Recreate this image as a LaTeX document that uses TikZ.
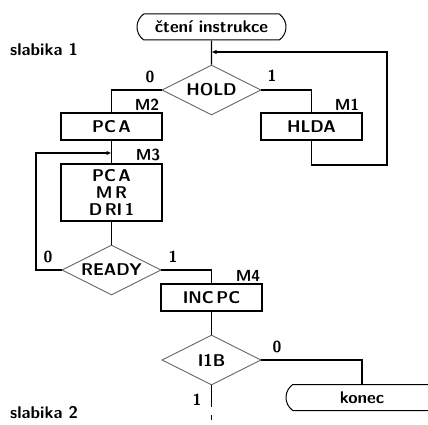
\documentclass[tikz,border=0pt]{standalone}
\usetikzlibrary{shapes.geometric,shapes.misc,arrows.meta}
\newcommand{\tsp}{\kern2.5pt}
\begin{document}
\begin{tikzpicture}[x=1pt,y=-1pt,
  font=\sffamily\bfseries\fontsize{17}{19}\selectfont,
  conn/.style={line width=1.2pt,black},
  box/.style={draw,line width=1.2pt,rectangle,minimum width=101pt,minimum height=27pt,inner sep=0pt},
  term/.style={draw,line width=1pt,rounded rectangle,rounded rectangle arc length=110,minimum height=26pt,inner sep=0pt},
  dec/.style={draw=black!60,line width=0.9pt,diamond,aspect=2,minimum width=99pt,minimum height=50pt,inner sep=0pt},
  lab/.style={font=\sffamily\bfseries\fontsize{16}{18}\selectfont,inner sep=0pt},
  tip/.style={-{Latex[length=5pt,width=4.5pt]}}
]
\useasboundingbox (0,0) rectangle (428,425);
\node[term,minimum width=149pt] (start) at (211.5,27) {čtení instrukce};
\node[dec] (hold) at (211.5,90) {HOLD};
\node[box] (pca) at (111.5,126.5) {PC\tsp A};
\node[box] (hlda) at (311.5,126.5) {HLDA};
\node[box,minimum height=57pt,align=center] (box3) at (111.5,192.5) {PC\tsp A\\[-2pt]M\tsp R\\[-2pt]D\tsp RI\tsp 1};
\node[dec] (ready) at (111.5,270) {READY};
\node[box] (inc) at (211.5,297.5) {INC\tsp PC};
\node[dec] (ib) at (211.5,360) {I1B};
\node[term,minimum width=152pt] (konec) at (362,397.5) {konec};

\coordinate (lr) at (387,165);
\coordinate (lt) at (387,52);
\coordinate (ll) at (36,270);
\coordinate (lm) at (36,153);
\coordinate (bend) at (211.5,407);
\coordinate (ds) at (211.5,415);
\coordinate (de) at (211.5,420);

\draw[conn] (start) -- (hold);
\draw[conn] (hold.west) -| (pca.north);
\draw[conn] (hold.east) -| (hlda.north);
\draw[conn,tip] (hlda.south) |- (lr) -- (lt) -- (start.south |- lt);
\draw[conn] (pca) -- (box3);
\draw[conn] (box3) -- (ready);
\draw[conn,tip] (ready.west) -- (ll) -- (lm) -- (pca.south |- lm);
\draw[conn] (ready.east) -| (inc.north);
\draw[conn] (inc) -- (ib);
\draw[conn] (ib.east) -| (konec.north);
\draw[conn] (ib.south) -- (bend);
\draw[conn] (ds) -- (de);

\node[lab] (l0a) at (150,77) {0};
\node[lab] (l1a) at (272,76) {1};
\node[lab] (m2) at (147,105) {M2};
\node[lab] (m1) at (347,105) {M1};
\node[lab] (m3) at (148,155) {M3};
\node[lab] (l0b) at (48,257) {0};
\node[lab] (l1b) at (173,257) {1};
\node[lab] (m4) at (248,276) {M4};
\node[lab] (l0c) at (277,347) {0};
\node[lab] (l1c) at (197,400) {1};
\node[anchor=west,inner sep=0pt] (s1) at (10,50) {slabika 1};
\node[anchor=west,inner sep=0pt] (s2) at (10,413) {slabika 2};
\end{tikzpicture}
\end{document}
